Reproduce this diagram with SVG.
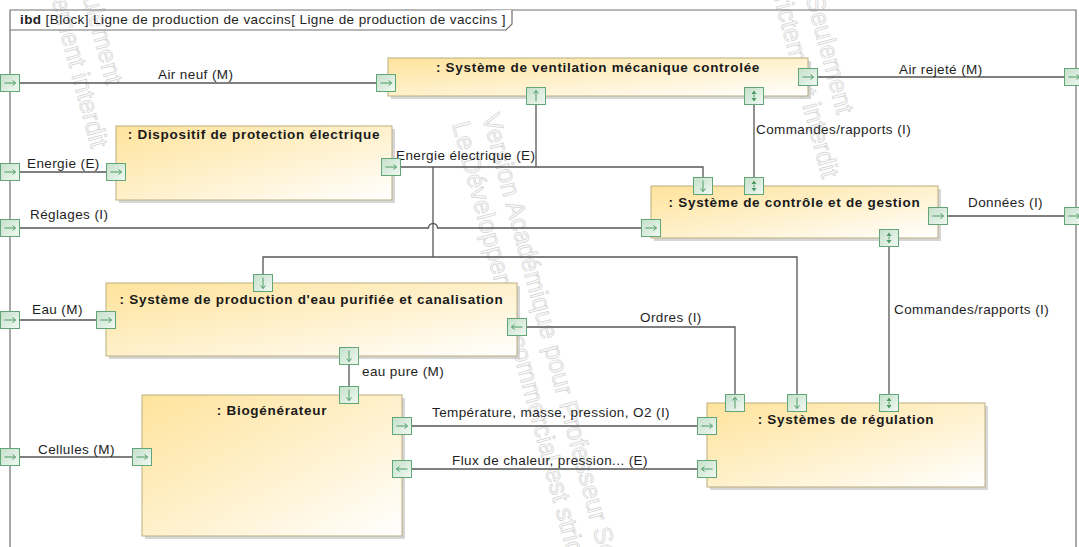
<svg xmlns="http://www.w3.org/2000/svg" width="1079" height="547" viewBox="0 0 1079 547">
<style>
.lbl{font-family:"Liberation Sans",Arial,sans-serif;font-size:13.5px;letter-spacing:0.4px;fill:#1e1e1e}
.ttl{font-family:"Liberation Sans",Arial,sans-serif;font-size:13.5px;font-weight:bold;letter-spacing:0.7px;fill:#1a1a1a;text-anchor:middle}
.wm{font-family:"Liberation Sans",Arial,sans-serif;font-size:25.5px;fill:#fbfbfb;stroke:#d3d3d3;stroke-width:0.7}
.frm{fill:none;stroke:#707070;stroke-width:1.2}
.con{fill:none;stroke:#555555;stroke-width:1.3}
.blk{fill:url(#gBlk);stroke:#bcad7e;stroke-width:1}
.shd{fill:#c4c4c4;opacity:0.7}
.prt{fill:url(#gPrt);stroke:#62a677;stroke-width:1}
.ar{fill:none;stroke:#4c9a62;stroke-width:1}
.at{fill:#4c9a62;stroke:none}
</style>
<defs>
<linearGradient id="gBlk" x1="0" y1="0" x2="1" y2="1">
<stop offset="0" stop-color="#ffe39c"/>
<stop offset="0.55" stop-color="#fff2d0"/>
<stop offset="1" stop-color="#ffffff"/>
</linearGradient>
<linearGradient id="gPrt" x1="0" y1="0" x2="1" y2="1">
<stop offset="0" stop-color="#c3e0ca"/>
<stop offset="1" stop-color="#f2f9f3"/>
</linearGradient>
<g id="pR"><rect class="prt" x="-9.5" y="-8.5" width="19" height="17"/><path class="ar" d="M-5.5,0 H5.5 M2.5,-2.5 L5.5,0 L2.5,2.5"/></g>
<g id="pL"><rect class="prt" x="-9.5" y="-8.5" width="19" height="17"/><path class="ar" d="M5.5,0 H-5.5 M-2.5,-2.5 L-5.5,0 L-2.5,2.5"/></g>
<g id="pD"><rect class="prt" x="-9.5" y="-8.5" width="19" height="17"/><path class="ar" d="M0,-5.5 V5.5 M-2.5,2.5 L0,5.5 L2.5,2.5"/></g>
<g id="pU"><rect class="prt" x="-9.5" y="-8.5" width="19" height="17"/><path class="ar" d="M0,5.5 V-5.5 M-2.5,-2.5 L0,-5.5 L2.5,-2.5"/></g>
<g id="pB"><rect class="prt" x="-9.5" y="-8.5" width="19" height="17"/><path class="at" d="M-2.5,-2 L0,-5.5 L2.5,-2 Z M-2.5,2 L0,5.5 L2.5,2 Z"/><path class="ar" d="M0,-1.5 V1.5"/></g>
</defs>
<rect x="0" y="0" width="1079" height="547" fill="#ffffff"/>
<g id="watermark">
<text class="wm" transform="translate(482,116) rotate(75)"><tspan x="0" y="0">Version Académique pour Professeur Seulement</tspan><tspan x="0" y="31">Le Développement commercial est strictement interdit</tspan></text>
<text class="wm" transform="translate(695,-416) rotate(75)"><tspan x="0" y="0">Version Académique pour Professeur Seulement</tspan><tspan x="0" y="31">Le Développement commercial est strictement interdit</tspan></text>
<text class="wm" transform="translate(-36,-446) rotate(75)"><tspan x="0" y="0">Version Académique pour Professeur Seulement</tspan><tspan x="0" y="31">Le Développement commercial est strictement interdit</tspan></text>
</g>
<g id="frame">
<path class="frm" d="M10,560 V10 H1076 V560"/>
<path d="M10,30 H506 L512,24 V10" fill="#ffffff" stroke="#707070" stroke-width="1.2"/>
<text class="lbl" x="20" y="24"><tspan font-weight="bold">ibd</tspan> [Block] Ligne de production de vaccins[ Ligne de production de vaccins ]</text>
</g>
<g id="connectors">
<path class="con" d="M10,83 H388"/>
<path class="con" d="M808,77 H1076"/>
<path class="con" d="M10,172 H116"/>
<path class="con" d="M392,167 H703 V186"/>
<path class="con" d="M536,96 V167"/>
<path class="con" d="M433,167 V257"/>
<path class="con" d="M263,283 V257 H797 V403"/>
<path class="con" d="M10,228 H428.5 A4.5,4.5 0 0 1 437.5,228 H651"/>
<path class="con" d="M754,96 V186"/>
<path class="con" d="M938,216 H1076"/>
<path class="con" d="M889,238 V403"/>
<path class="con" d="M10,320 H106"/>
<path class="con" d="M517,327 H735 V403"/>
<path class="con" d="M349,356 V395"/>
<path class="con" d="M402,426 H707"/>
<path class="con" d="M402,469 H707"/>
<path class="con" d="M10,457 H142"/>
<text class="lbl" x="158" y="79">Air neuf (M)</text>
<text class="lbl" x="899" y="74">Air rejeté (M)</text>
<text class="lbl" x="27" y="168">Energie (E)</text>
<text class="lbl" x="396" y="160">Energie électrique (E)</text>
<text class="lbl" x="30" y="219">Réglages (I)</text>
<text class="lbl" x="756" y="134">Commandes/rapports (I)</text>
<text class="lbl" x="968" y="207">Données (I)</text>
<text class="lbl" x="32" y="314">Eau (M)</text>
<text class="lbl" x="640" y="322">Ordres (I)</text>
<text class="lbl" x="894" y="314">Commandes/rapports (I)</text>
<text class="lbl" x="362" y="376">eau pure (M)</text>
<text class="lbl" x="432" y="417">Température, masse, pression, O2 (I)</text>
<text class="lbl" x="452" y="465">Flux de chaleur, pression... (E)</text>
<text class="lbl" x="38" y="454">Cellules (M)</text>
</g>
<g id="ventilation">
<rect class="shd" x="391" y="61" width="420" height="38"/>
<rect class="blk" x="388" y="58" width="420" height="38"/>
<text class="ttl" x="598" y="72">: Système de ventilation mécanique controlée</text>
<use href="#pR" x="386" y="83"/>
<use href="#pR" x="808" y="77"/>
<use href="#pU" x="536" y="96"/>
<use href="#pB" x="754" y="96"/>
</g>
<g id="protection">
<rect class="shd" x="119" y="129" width="276" height="74"/>
<rect class="blk" x="116" y="126" width="276" height="74"/>
<text class="ttl" x="254" y="139">: Dispositif de protection électrique</text>
<use href="#pR" x="116" y="172"/>
<use href="#pR" x="391" y="167"/>
</g>
<g id="controle">
<rect class="shd" x="654" y="189" width="287" height="52"/>
<rect class="blk" x="651" y="186" width="287" height="52"/>
<text class="ttl" x="794.5" y="207">: Système de contrôle et de gestion</text>
<use href="#pD" x="703" y="186"/>
<use href="#pB" x="754" y="186"/>
<use href="#pR" x="651" y="228"/>
<use href="#pR" x="938" y="216"/>
<use href="#pB" x="889" y="238"/>
</g>
<g id="eau">
<rect class="shd" x="109" y="286" width="411" height="73"/>
<rect class="blk" x="106" y="283" width="411" height="73"/>
<text class="ttl" x="311.5" y="304">: Système de production d'eau purifiée et canalisation</text>
<use href="#pD" x="263" y="283"/>
<use href="#pR" x="106" y="320"/>
<use href="#pL" x="517" y="327"/>
<use href="#pD" x="349" y="356"/>
</g>
<g id="biogenerateur">
<rect class="shd" x="145" y="398" width="260" height="141"/>
<rect class="blk" x="142" y="395" width="260" height="141"/>
<text class="ttl" x="272" y="415">: Biogénérateur</text>
<use href="#pD" x="349" y="395"/>
<use href="#pR" x="142" y="457"/>
<use href="#pR" x="402" y="426"/>
<use href="#pL" x="402" y="469"/>
</g>
<g id="regulation">
<rect class="shd" x="710" y="406" width="278" height="84"/>
<rect class="blk" x="707" y="403" width="278" height="84"/>
<text class="ttl" x="846" y="424">: Systèmes de régulation</text>
<use href="#pU" x="735" y="403"/>
<use href="#pD" x="797" y="403"/>
<use href="#pB" x="889" y="403"/>
<use href="#pR" x="707" y="426"/>
<use href="#pL" x="707" y="469"/>
</g>
<g id="frame-ports">
<use href="#pR" x="10" y="83"/>
<use href="#pR" x="10" y="172"/>
<use href="#pR" x="10" y="228"/>
<use href="#pR" x="10" y="320"/>
<use href="#pR" x="10" y="457"/>
<use href="#pR" x="1074" y="77"/>
<use href="#pR" x="1074" y="216"/>
</g>
</svg>
